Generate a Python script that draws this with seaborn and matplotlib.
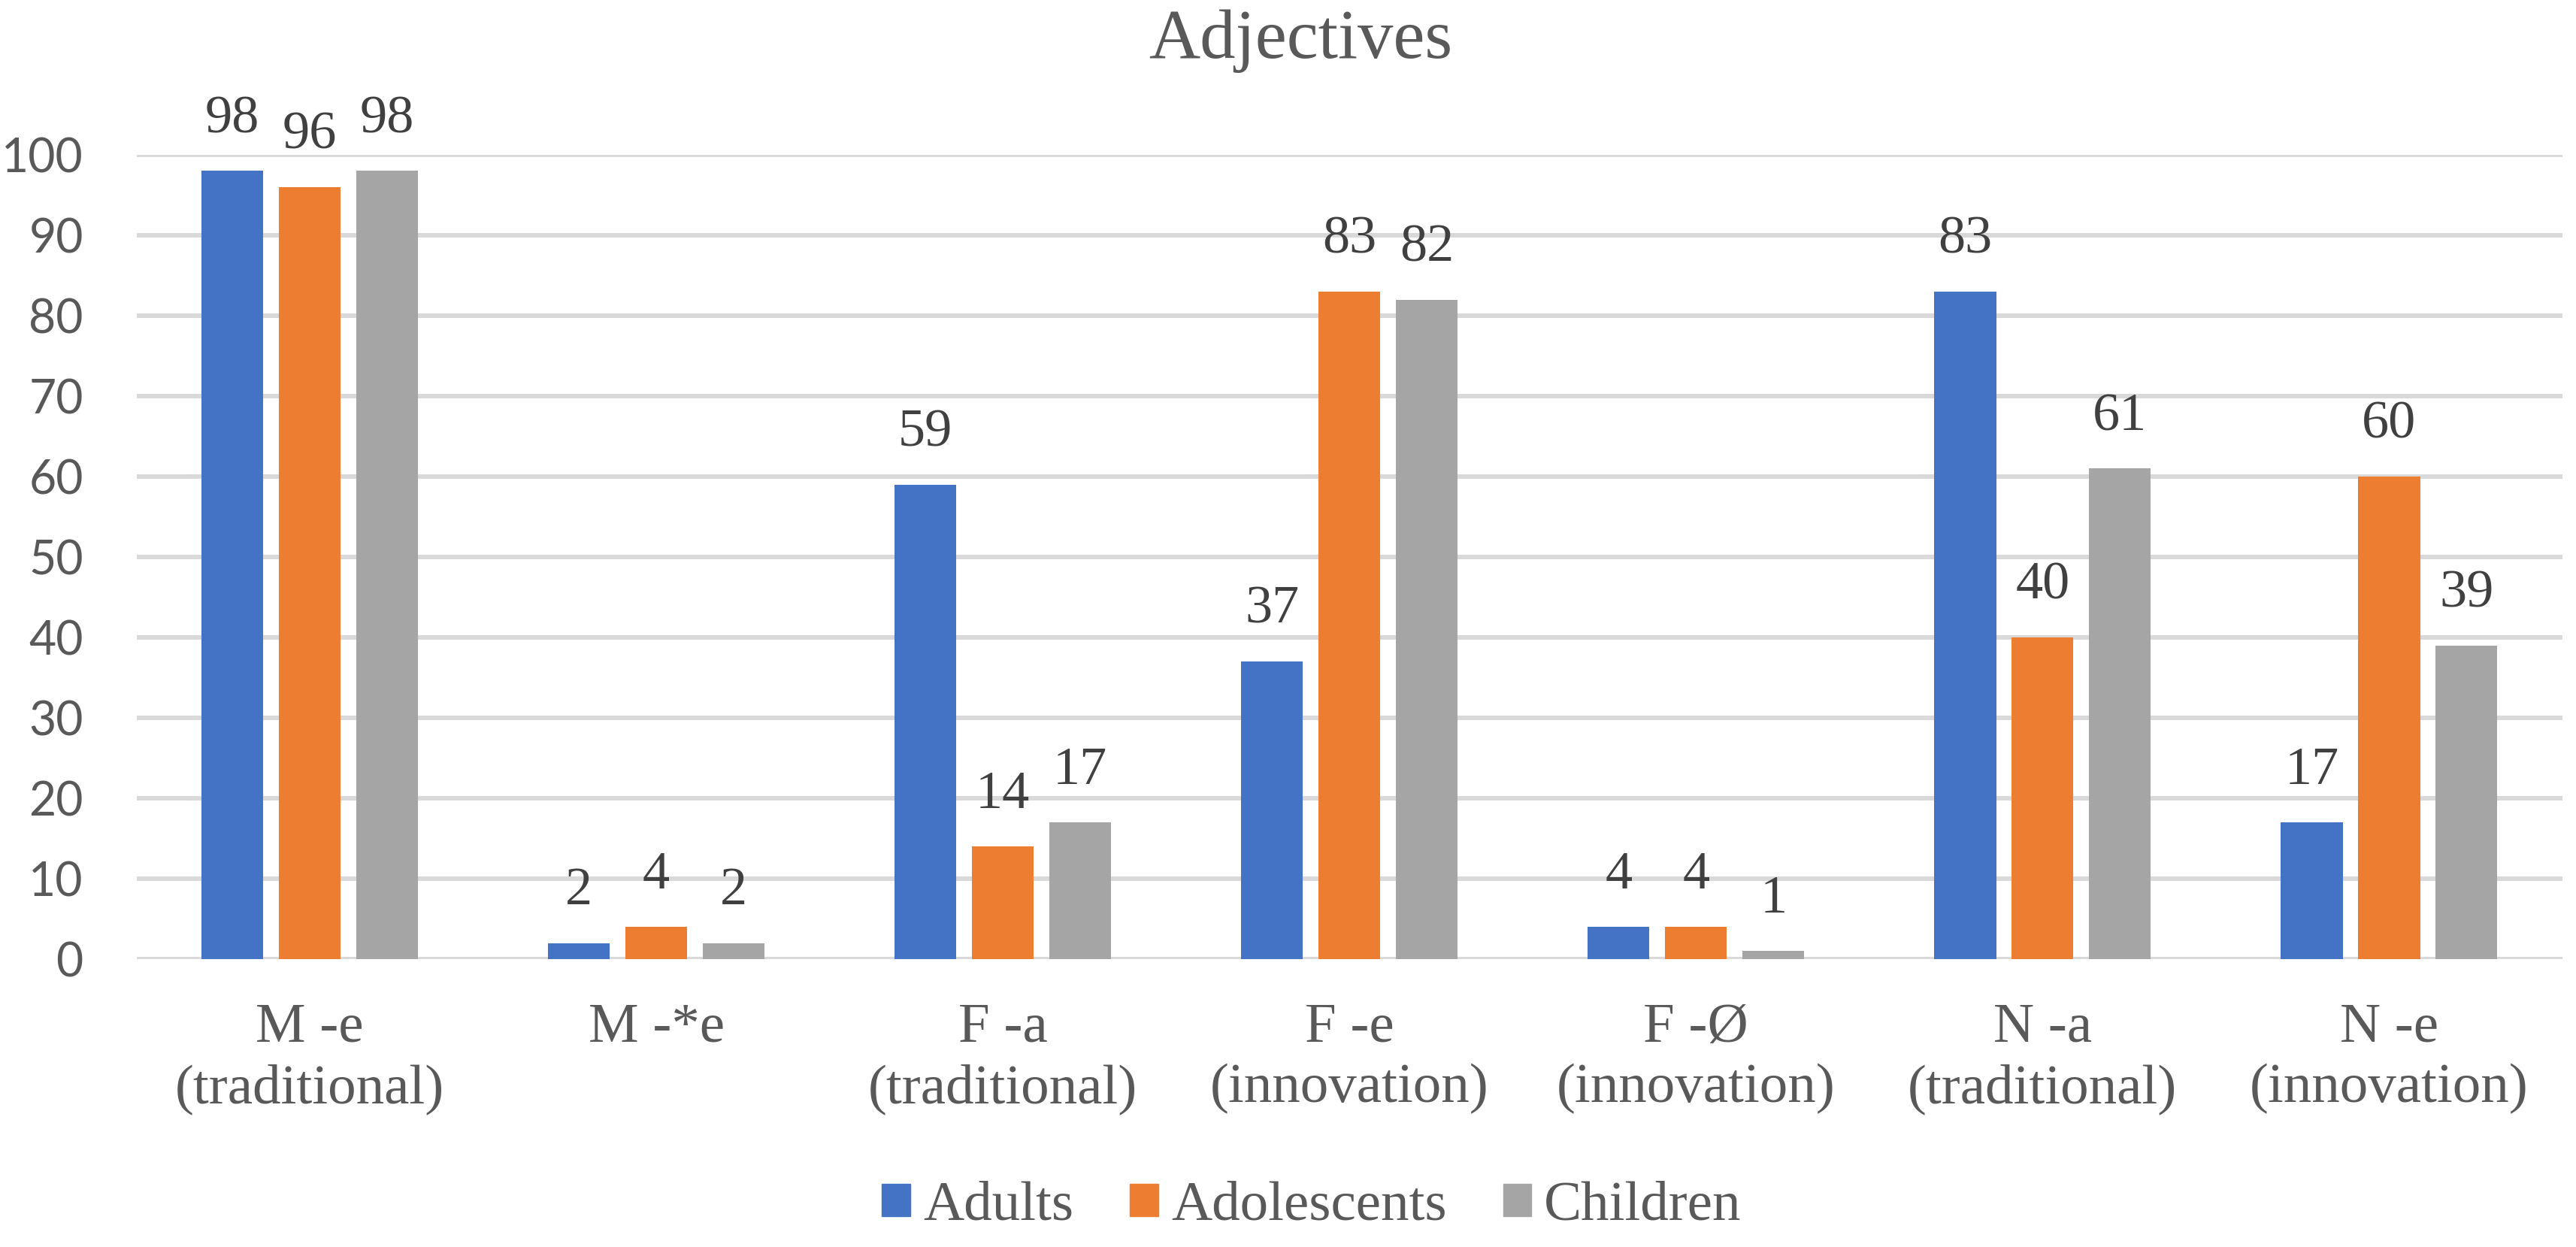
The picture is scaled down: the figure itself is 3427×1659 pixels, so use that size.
import pandas as pd
import matplotlib.pyplot as plt
import seaborn as sns

categories = ["M -e\n(traditional)", "M -*e", "F -a\n(traditional)",
              "F -e\n(innovation)", "F -Ø\n(innovation)",
              "N -a\n(traditional)", "N -e\n(innovation)"]
groups = ["Adults", "Adolescents", "Children"]
adults = [98, 2, 59, 37, 4, 83, 17]
adolescents = [96, 4, 14, 83, 4, 40, 60]
children = [98, 2, 17, 82, 1, 61, 39]
colors = ["#4472C4", "#ED7D31", "#A5A5A5"]

df = pd.DataFrame({
    "category": categories * 3,
    "group": [g for g in groups for _ in categories],
    "value": adults + adolescents + children,
})

sns.set_theme(style="white")
serif = "Liberation Serif"

fig = plt.figure(figsize=(34.27, 16.59), dpi=100)
ax = fig.add_axes([0.053, 0.2309, 0.9417, 0.6449])
ax.set_axisbelow(True)

sns.barplot(data=df, x="category", y="value", hue="group", order=categories,
            hue_order=groups, palette=colors, width=0.67, gap=0.2,
            saturation=1, ax=ax, legend=False, linewidth=0)

for cont in ax.containers:
    ax.bar_label(cont, padding=26, fontsize=52, color="#404040", family=serif)

ax.set_xlim(-0.5, 6.5)
ax.set_ylim(0, 100)
ax.set_yticks(range(0, 101, 10))
ax.grid(axis="y", color="#D9D9D9", linewidth=4.3)
ax.grid(axis="x", visible=False)
for s in ax.spines.values():
    s.set_visible(False)
ax.set_xlabel("")
ax.set_ylabel("")
ax.tick_params(axis="y", length=0, pad=51, labelsize=45, labelcolor="#595959")
ax.tick_params(axis="x", length=0, pad=42, labelcolor="#595959")
for lab in ax.get_yticklabels():
    lab.set_family("Lato")
for lab in ax.get_xticklabels():
    lab.set_family(serif)
    lab.set_fontsize(54)
    lab.set_linespacing(1.26)

fig.text(1730 / 3427, 1 - 77 / 1659, "Adjectives", ha="center", va="baseline",
         fontsize=68, color="#595959", family=serif)

handles = [plt.Rectangle((0, 0), 1, 1, color=c) for c in colors]
fig.legend(handles, groups, loc="center", bbox_to_anchor=(1745 / 3427, 1 - 1605 / 1659),
           ncol=3, frameon=False, handlelength=0.5, handleheight=0.5,
           handletextpad=0.23, columnspacing=1.0,
           prop={"family": serif, "size": 54}, labelcolor="#595959")

fig.savefig("out.png", dpi=100, facecolor="white")
